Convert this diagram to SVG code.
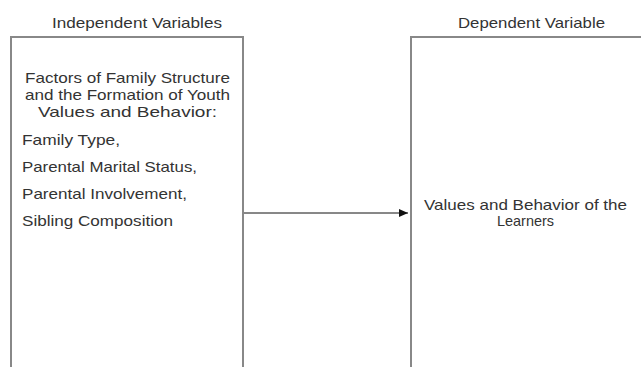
<svg xmlns="http://www.w3.org/2000/svg" width="641" height="367" viewBox="0 0 641 367">
<style>
.t{font-family:"Liberation Sans",Arial,sans-serif;font-size:15px;fill:#333}
.box{fill:#fff;stroke:#888;stroke-width:2}
.conn{stroke:#111;stroke-width:1;fill:none}
</style>
<defs>
<marker id="ah" markerWidth="10" markerHeight="8" refX="9" refY="4" orient="auto" markerUnits="userSpaceOnUse">
<path d="M0,0 L9,4 L0,8 Z" fill="#111"/>
</marker>
</defs>
<rect width="641" height="367" fill="#fff"/>
<text class="t" x="52" y="28" textLength="170" lengthAdjust="spacingAndGlyphs">Independent Variables</text>
<text class="t" x="458" y="28" textLength="147" lengthAdjust="spacingAndGlyphs">Dependent Variable</text>
<g id="independent">
<path class="box" d="M11,380 L11,37 L243,37 L243,380"/>
<text class="t" x="25" y="83" textLength="205" lengthAdjust="spacingAndGlyphs">Factors of Family Structure</text>
<text class="t" x="25" y="100" textLength="205" lengthAdjust="spacingAndGlyphs">and the Formation of Youth</text>
<text class="t" x="38" y="117" textLength="179" lengthAdjust="spacingAndGlyphs">Values and Behavior:</text>
<text class="t" x="22" y="145" textLength="98" lengthAdjust="spacingAndGlyphs">Family Type,</text>
<text class="t" x="22" y="172" textLength="175" lengthAdjust="spacingAndGlyphs">Parental Marital Status,</text>
<text class="t" x="22" y="199" textLength="165" lengthAdjust="spacingAndGlyphs">Parental Involvement,</text>
<text class="t" x="22" y="226" textLength="151" lengthAdjust="spacingAndGlyphs">Sibling Composition</text>
</g>
<g id="dependent">
<path class="box" d="M411,380 L411,37 L650,37"/>
<text class="t" x="424" y="210" textLength="203" lengthAdjust="spacingAndGlyphs">Values and Behavior of the</text>
<text class="t" x="497" y="226" textLength="57" lengthAdjust="spacingAndGlyphs">Learners</text>
</g>
<g id="connectors">
<line class="conn" x1="244" y1="213" x2="408" y2="213" marker-end="url(#ah)"/>
</g>
</svg>
